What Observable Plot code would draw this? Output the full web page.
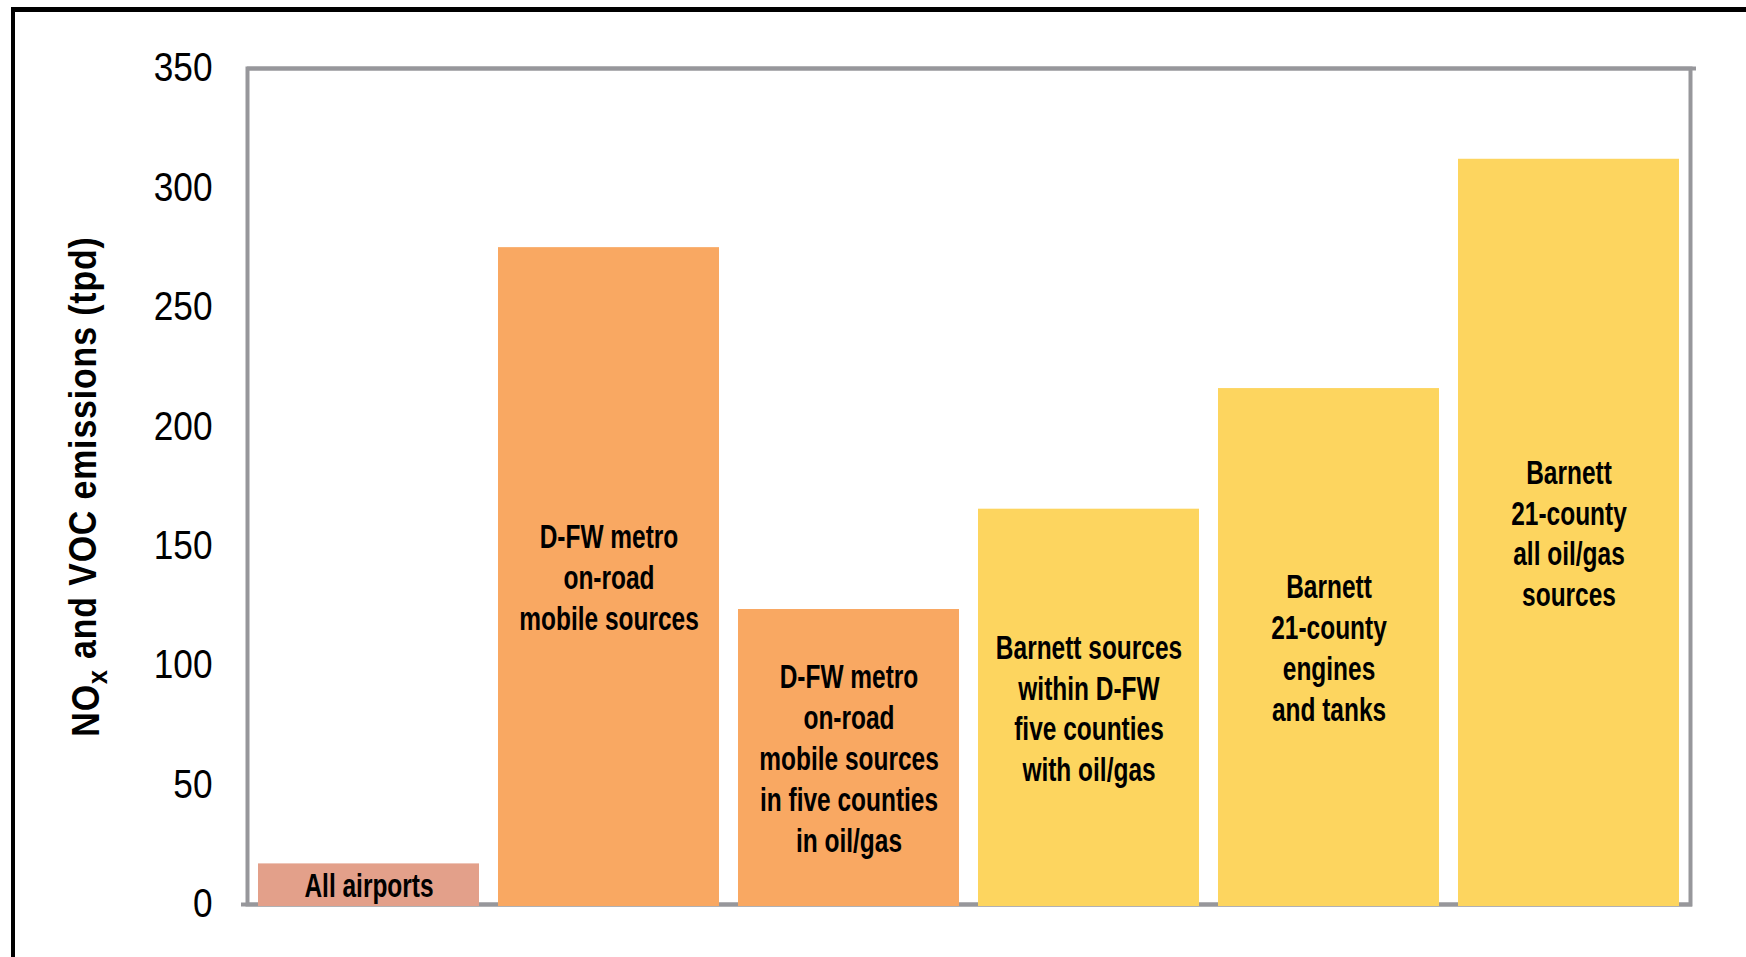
<!DOCTYPE html>
<html>
<head>
<meta charset="utf-8">
<script src="https://cdn.jsdelivr.net/npm/d3@7"></script>
<script src="https://cdn.jsdelivr.net/npm/@observablehq/plot@0.6"></script>
<style>
  html, body { margin: 0; padding: 0; background: #fff; overflow: hidden; }
  #wrap { position: relative; width: 1746px; height: 957px; }
  #frame {
    position: absolute; left: 11px; top: 7px; right: -20px; bottom: -20px;
    border-top: 5px solid #000; border-left: 4px solid #000;
    pointer-events: none;
  }
  #chart svg { display: block; }
</style>
</head>
<body>
<div id="wrap">
  <div id="chart"></div>
  <div id="frame"></div>
</div>
<script>
// Daily NOx + VOC emissions by source group (tons per day)
const sources = [
  "All airports",
  "D-FW metro\non-road\nmobile sources",
  "D-FW metro\non-road\nmobile sources\nin five counties\nin oil/gas",
  "Barnett sources\nwithin D-FW\nfive counties\nwith oil/gas",
  "Barnett\n21-county\nengines\nand tanks",
  "Barnett\n21-county\nall oil/gas\nsources"
];
const emissions = [17, 275, 123.5, 165.5, 216, 312];
const groups = ["airports", "metro", "metro", "barnett", "barnett", "barnett"];
const groupColors = ["#E3A08A", "#F9A862", "#FDD55F"];
const yTicks = [0, 50, 100, 150, 200, 250, 300, 350];
const yTitle = "NOx and VOC emissions (tpd)";

const rows = sources.map((s, i) => ({source: s, value: emissions[i], group: groups[i]}));

const font = "'Liberation Sans Narrow', 'Arial Narrow', 'Liberation Sans', Arial, sans-serif";

const chart = Plot.plot({
  width: 1746,
  height: 957,
  marginLeft: 247,
  marginRight: 56,
  marginTop: 68,
  marginBottom: 53,
  style: {fontFamily: font, background: "#fff", color: "#000"},
  x: {domain: sources, paddingInner: 0.08, paddingOuter: 0.04, axis: null},
  y: {domain: [0, 350], axis: null},
  color: {domain: ["airports", "metro", "barnett"], range: groupColors},
  marks: [
    Plot.frame({stroke: "#97979B", strokeWidth: 4}),
    Plot.ruleY([350], {stroke: "#97979B", strokeWidth: 4, insetRight: -6}),
    Plot.ruleY([0], {stroke: "#97979B", strokeWidth: 4, insetLeft: -6, insetRight: -2}),
    Plot.axisY({ticks: yTicks, tickSize: 0, tickPadding: 35, fontSize: 40, tickFormat: d3.format("d"), label: null}),
    Plot.barY(rows, {x: "source", y: "value", fill: "group", insetBottom: -2}),
    Plot.text(rows, {
      x: "source", y: d => d.value / 2, text: "source",
      fontSize: 34, fontWeight: "bold", lineHeight: 1.2, fill: "#000"
    }),
    Plot.text([yTitle], {
      frameAnchor: "left", dx: -161, rotate: -90, text: d => d,
      textAnchor: "middle", fontSize: 38, fontWeight: "bold", fill: "#000"
    })
  ]
});

// Set the "x" of NOx as a subscript
d3.select(chart).selectAll("text")
  .filter(function () { return this.textContent === yTitle; })
  .each(function () {
    const t = d3.select(this).text(null).style("letter-spacing", "1px");
    t.append("tspan").text("NO");
    t.append("tspan").text("x").attr("dy", "0.3em").attr("font-size", "0.75em");
    t.append("tspan").text(" and VOC emissions (tpd)").attr("dy", "-0.3em");
  });

document.getElementById("chart").append(chart);

// Condensed lettering: narrow each label around its own anchor,
// by how large the label is set
const narrowBySize = {"40px": 0.88, "34px": 0.72, "38px": 0.89};
d3.select(chart).selectAll("text").each(function () {
  const k = narrowBySize[getComputedStyle(this).fontSize];
  if (!k) return;
  const t = this.getAttribute("transform") || "";
  this.setAttribute("transform", `${t} scale(${k},1)`);
});
</script>
</body>
</html>
